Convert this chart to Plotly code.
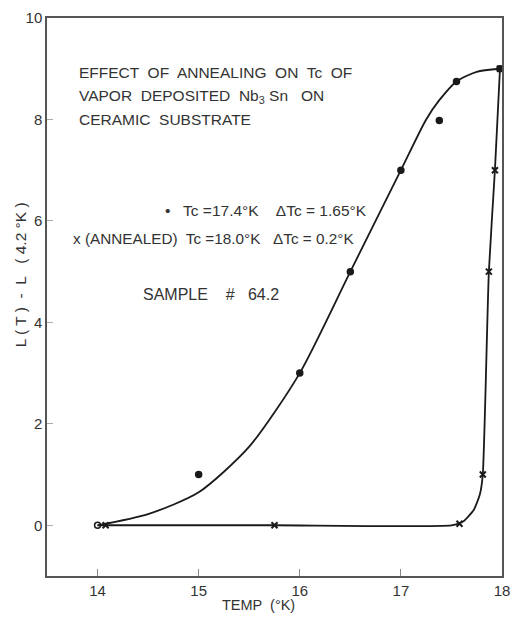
import plotly.graph_objects as go

# Measured points: unannealed film (dots)
temp_raw = [14.0, 15.0, 16.0, 16.5, 17.0, 17.38, 17.55, 17.98]
dl_raw = [0.0, 1.0, 3.0, 5.0, 7.0, 7.98, 8.75, 9.0]
raw_symbols = ["circle-open", "circle", "circle", "circle", "circle", "circle", "circle", "circle"]

# Measured points: annealed film (crosses)
temp_ann = [14.08, 15.75, 17.58, 17.81, 17.87, 17.93, 17.98]
dl_ann = [0.0, 0.0, 0.03, 1.0, 5.0, 7.0, 9.0]

# Hand-drawn smooth curves through each set
fit_raw_t = [14.0, 14.5, 15.0, 15.5, 16.0, 16.5, 17.0, 17.25, 17.38, 17.55, 17.75, 17.98]
fit_raw_l = [0.0, 0.22, 0.65, 1.55, 3.0, 5.0, 7.0, 8.0, 8.38, 8.75, 8.94, 9.0]
fit_ann_t = [14.0, 15.75, 17.5, 17.62, 17.72, 17.78, 17.81, 17.87, 17.93, 17.98]
fit_ann_l = [0.0, 0.0, 0.0, 0.08, 0.3, 0.6, 1.0, 5.0, 7.0, 9.0]

x_ticks = [14, 15, 16, 17, 18]
y_ticks = [0, 2, 4, 6, 8, 10]

ink = "#1a1a1a"
txt = "#333333"
font_family = "Liberation Sans, Arial, sans-serif"

fig = go.Figure()
fig.add_trace(go.Scatter(x=fit_raw_t, y=fit_raw_l, mode="lines",
                         line=dict(color=ink, width=1.8, shape="spline", smoothing=0.7),
                         hoverinfo="skip"))
fig.add_trace(go.Scatter(x=fit_ann_t, y=fit_ann_l, mode="lines",
                         line=dict(color=ink, width=1.8, shape="spline", smoothing=0.5),
                         hoverinfo="skip"))
fig.add_trace(go.Scatter(x=temp_raw, y=dl_raw, mode="markers",
                         marker=dict(symbol=raw_symbols, size=6, color=ink,
                                     line=dict(color=ink, width=1.5))))
fig.add_trace(go.Scatter(x=temp_ann, y=dl_ann, mode="markers",
                         marker=dict(symbol="x-thin", size=6,
                                     line=dict(color=ink, width=2))))

def note(x, y, text, size=15.5, xref="x", yref="y", xanchor="left", angle=0):
    fig.add_annotation(x=x, y=y, xref=xref, yref=yref, text=text, showarrow=False,
                       xanchor=xanchor, yanchor="middle", textangle=angle,
                       font=dict(family=font_family, size=size, color=txt))

note(13.80, 8.92, "EFFECT  OF  ANNEALING  ON  Tc  OF")
note(13.80, 8.45, "VAPOR  DEPOSITED  Nb<sub>3</sub> Sn   ON")
note(13.80, 8.00, "CERAMIC  SUBSTRATE")
note(14.65, 6.20, "•   Tc =17.4°K    ΔTc = 1.65°K", size=15.5)
note(13.74, 5.65, "x (ANNEALED)  Tc =18.0°K   ΔTc = 0.2°K", size=15.3)
note(14.43, 4.55, "SAMPLE    #   64.2", size=16)

# Axis titles, placed in paper coordinates
note(-0.058, 0.54, "L ( T )  -  L   ( 4.2 °K )", size=15.5, xref="paper", yref="paper",
     xanchor="center", angle=-90)
note(0.465, -0.052, "TEMP  (°K)", size=14.5, xref="paper", yref="paper", xanchor="center")

fig.update_xaxes(range=[13.5, 18.0], tickvals=x_ticks, ticktext=[str(v) for v in x_ticks],
                 ticks="inside", ticklen=7, tickcolor="#888", showgrid=False,
                 zeroline=False, showline=True, linecolor="#555", linewidth=1.5, mirror=True,
                 tickfont=dict(family=font_family, size=15, color=txt))
fig.update_yaxes(range=[-1.0, 10.0], tickvals=y_ticks, ticktext=[str(v) for v in y_ticks],
                 ticks="inside", ticklen=6, tickcolor="#aaa", showgrid=False,
                 zeroline=False, showline=True, linecolor="#555", linewidth=1.5, mirror=True,
                 tickfont=dict(family=font_family, size=15, color=txt))

fig.update_layout(width=519, height=627, showlegend=False,
                  margin=dict(l=47, r=9, t=15, b=51),
                  paper_bgcolor="white", plot_bgcolor="white")

fig.write_html("out.html")
